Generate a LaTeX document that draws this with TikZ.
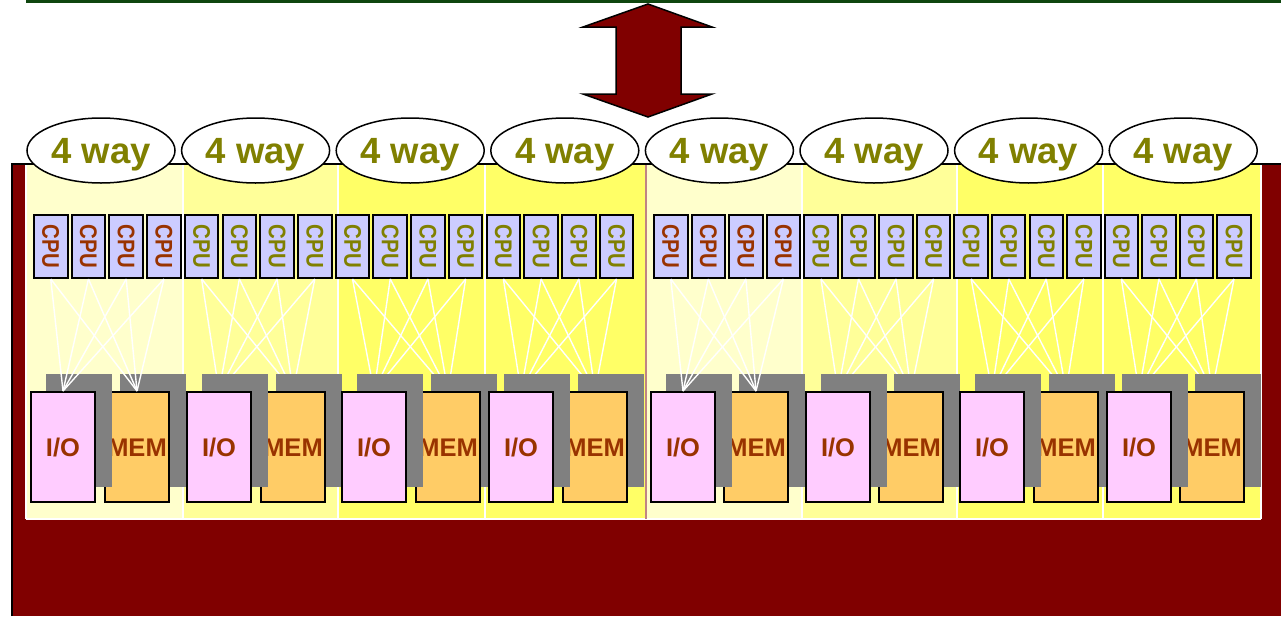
\documentclass[tikz,border=0pt]{standalone}
\usepackage{fontspec}
\setmainfont{Liberation Sans}
\usetikzlibrary{shapes.geometric}
\definecolor{dred}{HTML}{800000}
\definecolor{olv}{HTML}{808000}
\definecolor{brn}{HTML}{993300}
\definecolor{lav}{HTML}{CCCCFF}
\definecolor{pnk}{HTML}{FFCCFF}
\definecolor{org}{HTML}{FFCC66}
\definecolor{shd}{HTML}{808080}
\definecolor{pA}{HTML}{FFFFCC}
\definecolor{pB}{HTML}{FFFF99}
\definecolor{pC}{HTML}{FFFF66}
\definecolor{dgreen}{RGB}{15,70,15}
\definecolor{divline}{HTML}{C08484}
\pgfdeclarelayer{bg}
\pgfdeclarelayer{mid}
\pgfdeclarelayer{front}
\pgfsetlayers{bg,mid,main,front}
\begin{document}
\begin{tikzpicture}[x=1pt,y=-1pt,
  wayell/.style={ellipse, draw=black, line width=1.5pt, fill=white,
    minimum width=148pt, minimum height=65pt, inner sep=0pt,
    font=\bfseries\fontsize{36.5}{36.5}\selectfont, text=olv,
    text height=30pt, text depth=4pt},
  cpubox/.style={draw=black, line width=2pt, fill=lav, inner sep=0pt,
    minimum width=33.5pt, minimum height=63pt,
    font=\bfseries\fontsize{24}{24}\selectfont},
  iobox/.style={draw=black, line width=2pt, fill=pnk, inner sep=0pt,
    minimum width=64pt, minimum height=110pt, text=brn,
    font=\bfseries\fontsize{25.5}{25.5}\selectfont, text height=18pt, text depth=0pt},
  membox/.style={iobox, fill=org},
  shadowbox/.style={fill=shd},
  wire/.style={draw=white, line width=1.4pt},
  sep/.style={draw=white, line width=1.5pt}
]
\useasboundingbox (0,0) rectangle (1281,616);
\begin{pgfonlayer}{bg}
  % top green board edge
  \draw[draw=dgreen, line width=2.6pt] (27,0) -- (27,1.7) -- (1281,1.7);
  % double arrow
  \draw[fill=dred, draw=black, line width=1.5pt, line join=miter]
    (648,4) -- (712,27) -- (681,27) -- (681,94) -- (712,94) -- (648,117)
    -- (583,94) -- (616,94) -- (616,27) -- (583,27) -- cycle;
  % main board
  \fill[dred] (12,164) rectangle (1281,616);
  \draw[black, line width=1.5pt] (12,616) -- (12,164) -- (1281,164);
  % panels
  \foreach \a/\b/\c in {26/183/pA, 183/338/pB, 338/485/pC, 485/645.5/pC,
                        646.5/802/pA, 802/957/pB, 957/1103/pC, 1103/1261/pC}{
    \fill[\c] (\a,165) rectangle (\b,519);
  }
  \foreach \x in {26,183,338,485,802,957,1103,1261}{
    \draw[sep] (\x,165) -- (\x,519);
  }
  \draw[sep] (26,519) -- (1261,519);
  \draw[divline, line width=1.5pt] (646,165) -- (646,519);
  % 4 way ellipses
  \foreach \k in {0,...,7}{
    \node[wayell] (way\k) at ({101+154.6*\k},150.5) {4 way};
  }
  % CPUs
  \foreach \i in {0,...,31}{
    \pgfmathsetmacro\cx{\i<16 ? 50.75+37.72*\i : 670.75+37.55*(\i-16)}
    \pgfmathtruncatemacro\g{int(\i/4)}
    \ifnum\g=0 \def\tc{brn}\else\ifnum\g=4 \def\tc{brn}\else\def\tc{olv}\fi\fi
    \node[cpubox, text=\tc] (cpu\i) at (\cx,246.5)
      {\rotatebox{-90}{\scalebox{0.85}[1]{CPU}}};
  }
\end{pgfonlayer}
% I/O and MEM boards with shadows
\foreach \g/\xi/\xm in {0/30/104, 1/186/260, 2/341/415, 3/488/562,
                        4/650/723, 5/805/878, 6/959/1033, 7/1106/1179}{
  \fill[shadowbox] ({\xm+15.5},374) rectangle ({\xm+81.5},487);
  \node[membox] (mem\g) at ({\xm+33},447) {MEM};
  \fill[shadowbox] ({\xi+15.5},374) rectangle ({\xi+81.5},487);
  \node[iobox] (io\g) at ({\xi+33},447) {I/O};
}
% wires hidden behind the shadows
\begin{pgfonlayer}{mid}
  \foreach \g in {1,2,3,5,6,7}{
    \foreach \j in {0,...,3}{
      \pgfmathtruncatemacro\c{4*\g+\j}
      \draw[wire] (cpu\c.south) -- (io\g.north);
      \draw[wire] (cpu\c.south) -- (mem\g.north);
    }
  }
\end{pgfonlayer}
% wires drawn on top
\begin{pgfonlayer}{front}
  \foreach \g in {0,4}{
    \foreach \j in {0,...,3}{
      \pgfmathtruncatemacro\c{4*\g+\j}
      \draw[wire] (cpu\c.south) -- (io\g.north);
      \draw[wire] (cpu\c.south) -- (mem\g.north);
    }
  }
\end{pgfonlayer}
\end{tikzpicture}
\end{document}
